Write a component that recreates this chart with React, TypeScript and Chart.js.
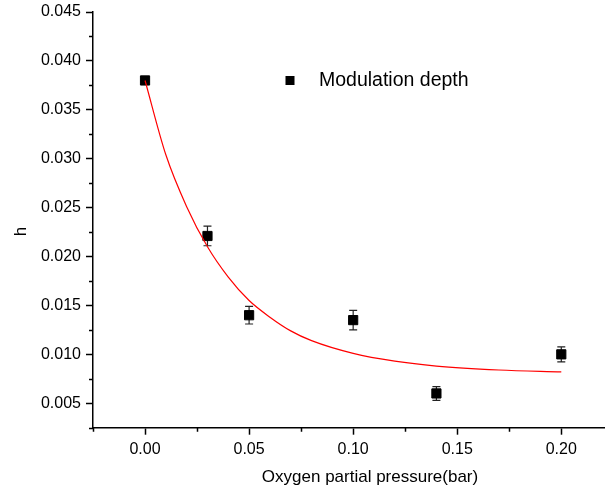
import React, { useEffect, useRef } from 'react';
import { Chart, registerables } from 'chart.js';

Chart.register(...registerables);

// ---- data ----
const seriesLabel = 'Modulation depth';
const xTitle = 'Oxygen partial pressure(bar)';
const yTitle = 'h';

const pressures = [0, 0.03, 0.05, 0.1, 0.14, 0.2];
const depths = [0.038, 0.0221, 0.014, 0.0135, 0.006, 0.01];
const depthErrors = [0.0003, 0.001, 0.0009, 0.001, 0.0007, 0.00077];

const fitPressures = [0, 0.01, 0.02, 0.03, 0.04, 0.05, 0.06, 0.07, 0.08, 0.1, 0.12, 0.14, 0.17, 0.2];
const fitDepths = [0.038, 0.0304, 0.0251, 0.021, 0.0179, 0.0155, 0.0138, 0.0124, 0.0114, 0.0101, 0.0093, 0.0088, 0.0084, 0.0082];

const xTicks = [0, 0.05, 0.1, 0.15, 0.2];
const xMinorTicks = [-0.025, 0.025, 0.075, 0.125, 0.175];
const yTicks = [0.005, 0.01, 0.015, 0.02, 0.025, 0.03, 0.035, 0.04, 0.045];
const yMinorTicks = [0.0025, 0.0075, 0.0125, 0.0175, 0.0225, 0.0275, 0.0325, 0.0375, 0.0425];

const FONT = '"Liberation Sans", Arial, Helvetica, sans-serif';

const decorPlugin = {
  id: 'decor',
  beforeDatasetsDraw(chart: any) {
    const { ctx } = chart;
    const xs = chart.scales.x;
    const ys = chart.scales.y;
    ctx.save();
    ctx.strokeStyle = '#222';
    ctx.lineWidth = 1.2;
    pressures.forEach((p, i) => {
      const px = xs.getPixelForValue(p);
      const top = ys.getPixelForValue(depths[i] + depthErrors[i]);
      const bot = ys.getPixelForValue(depths[i] - depthErrors[i]);
      ctx.beginPath();
      ctx.moveTo(px, top);
      ctx.lineTo(px, bot);
      ctx.moveTo(px - 4, top);
      ctx.lineTo(px + 4, top);
      ctx.moveTo(px - 4, bot);
      ctx.lineTo(px + 4, bot);
      ctx.stroke();
    });
    ctx.restore();
  },
  afterDraw(chart: any) {
    const { ctx, chartArea } = chart;
    const xs = chart.scales.x;
    const ys = chart.scales.y;
    ctx.save();
    // minor ticks
    ctx.strokeStyle = '#000';
    ctx.lineWidth = 1.5;
    ctx.beginPath();
    xMinorTicks.forEach((v) => {
      const px = Math.round(xs.getPixelForValue(v)) + 0.5;
      ctx.moveTo(px, chartArea.bottom);
      ctx.lineTo(px, chartArea.bottom + 4);
    });
    yMinorTicks.forEach((v) => {
      const py = Math.round(ys.getPixelForValue(v)) + 0.5;
      ctx.moveTo(chartArea.left - 4, py);
      ctx.lineTo(chartArea.left, py);
    });
    ctx.stroke();

    // legend
    ctx.fillStyle = '#000';
    ctx.fillRect(285.5, 76, 9, 9);
    ctx.font = `19.5px ${FONT}`;
    ctx.textAlign = 'left';
    ctx.textBaseline = 'middle';
    ctx.fillText(seriesLabel, 319, 81);

    // axis titles
    ctx.font = `17px ${FONT}`;
    ctx.textAlign = 'center';
    ctx.textBaseline = 'middle';
    ctx.fillText(xTitle, 370, 477);
    ctx.translate(21, 231.5);
    ctx.rotate(-Math.PI / 2);
    ctx.fillText(yTitle, 0, 0);
    ctx.restore();
  },
};

export default function App() {
  const canvasRef = useRef<HTMLCanvasElement | null>(null);

  useEffect(() => {
    if (!canvasRef.current) return;
    Chart.defaults.font.family = FONT;
    const chart = new Chart(canvasRef.current, {
      type: 'scatter',
      data: {
        datasets: [
          {
            label: 'fit',
            data: fitPressures.map((x, i) => ({ x, y: fitDepths[i] })),
            showLine: true,
            borderColor: '#ff0000',
            borderWidth: 1.2,
            pointRadius: 0,
            cubicInterpolationMode: 'monotone',
            fill: false,
          } as any,
          {
            label: seriesLabel,
            data: pressures.map((x, i) => ({ x, y: depths[i] })),
            pointStyle: 'rect',
            pointRadius: 6.5,
            pointHoverRadius: 6.5,
            backgroundColor: '#000',
            borderColor: '#000',
            borderWidth: 1,
          } as any,
        ],
      },
      options: {
        responsive: false,
        animation: false,
        devicePixelRatio: 1,
        layout: { autoPadding: false, padding: { top: 12, right: 0, bottom: 0, left: 0 } },
        plugins: {
          legend: { display: false },
          tooltip: { enabled: false },
        },
        scales: {
          x: {
            type: 'linear',
            min: -0.025,
            max: 0.221,
            afterBuildTicks: (s: any) => {
              s.ticks = xTicks.map((v) => ({ value: v }));
            },
            afterFit: (s: any) => {
              s.height = 67.3;
              s.paddingLeft = 0;
              s.paddingRight = 0;
            },
            ticks: {
              callback: (v: any) => Number(v).toFixed(2),
              font: { size: 16, family: FONT },
              color: '#000',
              padding: 5,
              maxRotation: 0,
              autoSkip: false,
            },
            grid: {
              drawOnChartArea: false,
              drawTicks: true,
              tickLength: 7,
              tickColor: '#000',
              tickWidth: 1.5,
            },
            border: { display: true, color: '#000', width: 1.5 },
          },
          y: {
            type: 'linear',
            min: 0.0025,
            max: 0.045,
            afterBuildTicks: (s: any) => {
              s.ticks = yTicks.map((v) => ({ value: v }));
            },
            afterFit: (s: any) => {
              s.width = 93;
              s.paddingTop = 0;
              s.paddingBottom = 0;
            },
            ticks: {
              callback: (v: any) => Number(v).toFixed(3),
              font: { size: 16, family: FONT },
              color: '#000',
              padding: 5,
              autoSkip: false,
            },
            grid: {
              drawOnChartArea: false,
              drawTicks: true,
              tickLength: 7,
              tickColor: '#000',
              tickWidth: 1.5,
            },
            border: { display: true, color: '#000', width: 1.5 },
          },
        },
      },
      plugins: [decorPlugin],
    } as any);
    return () => chart.destroy();
  }, []);

  return (
    <div style={{ position: 'absolute', left: 0, top: 0, width: 605, height: 495, background: '#fff' }}>
      <canvas ref={canvasRef} width={605} height={495} style={{ display: 'block', width: 605, height: 495 }} />
    </div>
  );
}
